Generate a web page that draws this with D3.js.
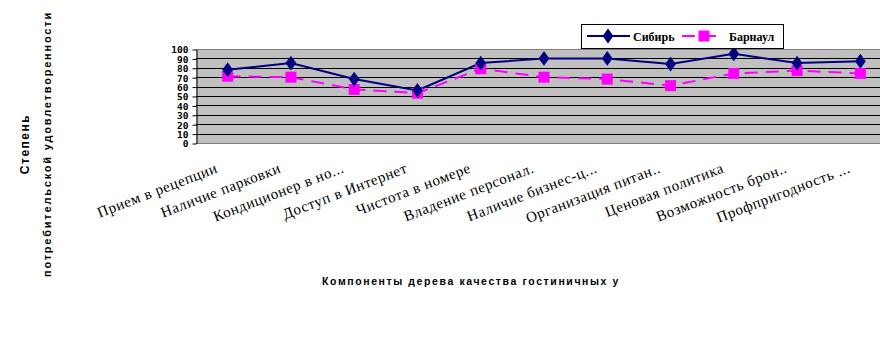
<!DOCTYPE html>
<html><head><meta charset="utf-8">
<script src="https://cdn.jsdelivr.net/npm/d3@7"></script>
<style>
html,body{margin:0;padding:0;background:#fff;}
svg{display:block;}
</style></head>
<body><svg id="c" width="880" height="360"></svg>
<script>
const categories = ["Прием в рецепции","Наличие парковки","Кондиционер в но...","Доступ в Интернет","Чистота в номере","Владение персонал.","Наличие бизнес-ц...","Организация питан..","Ценовая политика","Возможность брон..","Профпригодность ..."];
const sibir = [78, 85, 68, 56, 85, 90, 90, 84, 95, 85, 87];
const barnaul = [71, 70, 57, 53, 79, 70, 68, 61, 74, 77, 74];
const yTicks = [0,10,20,30,40,50,60,70,80,90,100];
const seriesNames = ["Сибирь","Барнаул"];
const yTitle = ["Степень","потребительской удовлетворенности"];
const xTitle = "Компоненты  дерева качества гостиничных у";

const svg = d3.select("#c");
const L = 196, R = 892, T = 49, B = 143;
const x = d3.scaleBand().domain(categories).range([L, R]);
const y = d3.scaleLinear().domain([0,100]).range([B, T]);

// plot area
svg.append("rect").attr("x", L).attr("y", T).attr("width", R-L).attr("height", B-T).attr("fill", "#c0c0c0");
svg.append("g").selectAll("line").data(yTicks.filter(d=>d>0 && d<100)).join("line")
  .attr("x1", L).attr("x2", R).attr("y1", d=>Math.round(y(d))+0.5).attr("y2", d=>Math.round(y(d))+0.5)
  .attr("stroke", "#000").attr("stroke-width", 1);
svg.append("line").attr("x1", L).attr("x2", R).attr("y1", T+0.5).attr("y2", T+0.5).attr("stroke", "#808080");
svg.append("line").attr("x1", L).attr("x2", R).attr("y1", B+0.5).attr("y2", B+0.5).attr("stroke", "#808080");

// y axis
const yAxis = d3.axisLeft(y).tickValues(yTicks).tickSize(4).tickSizeOuter(0);
const ya = svg.append("g").attr("transform", `translate(${L+0.5},0.5)`).call(yAxis);
ya.select(".domain").attr("stroke", "#000");
ya.selectAll(".tick line").attr("stroke", "#000");
ya.selectAll(".tick text").attr("font-family", "DejaVu Sans Mono").attr("font-weight", "bold")
  .attr("font-size", 9.5).attr("fill", "#000").attr("x", -8).attr("dy", "0.36em");

// x labels
const cx = d => x(d) + x.bandwidth()/2;
svg.append("g").selectAll("text").data(categories).join("text")
  .attr("transform", d => `translate(${cx(d)-9},172) rotate(-21)`)
  .attr("text-anchor", "end")
  .attr("font-family", "Liberation Serif").attr("font-size", 15).attr("letter-spacing", 0.6)
  .attr("fill", "#000").text(d => d);

// lines
const line = d3.line().x((d,i) => cx(categories[i])).y(d => y(d));
svg.append("path").datum(barnaul).attr("d", line).attr("fill", "none")
  .attr("stroke", "#ff00ff").attr("stroke-width", 2).attr("stroke-dasharray", "13,8");
svg.append("path").datum(sibir).attr("d", line).attr("fill", "none")
  .attr("stroke", "#000080").attr("stroke-width", 2);
// markers
svg.append("g").selectAll("rect").data(barnaul).join("rect")
  .attr("x", (d,i) => cx(categories[i]) - 5.5).attr("y", d => y(d) - 5.5)
  .attr("width", 11).attr("height", 11).attr("fill", "#ff00ff");
const diamond = d3.symbol().type(d3.symbolDiamond).size(64);
svg.append("g").selectAll("path").data(sibir).join("path")
  .attr("transform", (d,i) => `translate(${cx(categories[i])},${y(d)}) scale(1.25,1)`)
  .attr("d", diamond).attr("fill", "#000080");

// legend
const lg = svg.append("g");
lg.append("rect").attr("x", 581.5).attr("y", 24.5).attr("width", 202).attr("height", 24)
  .attr("fill", "#fff").attr("stroke", "#000");
lg.append("line").attr("x1", 587).attr("x2", 630).attr("y1", 36).attr("y2", 36).attr("stroke", "#000080").attr("stroke-width", 2);
lg.append("path").attr("transform", "translate(608,36) scale(1.25,1)").attr("d", diamond).attr("fill", "#000080");
lg.append("text").attr("x", 633).attr("y", 40.5).attr("font-family", "Liberation Serif").attr("font-weight", "bold")
  .attr("font-size", 12).text(seriesNames[0]);
lg.append("line").attr("x1", 682).attr("x2", 724).attr("y1", 36).attr("y2", 36).attr("stroke", "#ff00ff").attr("stroke-width", 2).attr("stroke-dasharray", "13,8");
lg.append("rect").attr("x", 698.5).attr("y", 30.5).attr("width", 11).attr("height", 11).attr("fill", "#ff00ff");
lg.append("text").attr("x", 729).attr("y", 40.5).attr("font-family", "Liberation Serif").attr("font-weight", "bold")
  .attr("font-size", 12).text(seriesNames[1]);

// axis titles
svg.append("text").attr("transform", "translate(29,144) rotate(-90)").attr("text-anchor", "middle")
  .attr("font-family", "Liberation Sans").attr("font-weight", "bold").attr("font-size", 12).attr("letter-spacing", 1.5)
  .text(yTitle[0]);
svg.append("text").attr("transform", "translate(51,144) rotate(-90)").attr("text-anchor", "middle")
  .attr("font-family", "Liberation Sans").attr("font-weight", "bold").attr("font-size", 11).attr("letter-spacing", 1.8)
  .text(yTitle[1]);
svg.append("text").attr("x", 322).attr("y", 285).attr("font-family", "Liberation Sans").attr("font-weight", "bold")
  .attr("font-size", 10.5).attr("letter-spacing", 1.6).text(xTitle);
</script></body></html>
